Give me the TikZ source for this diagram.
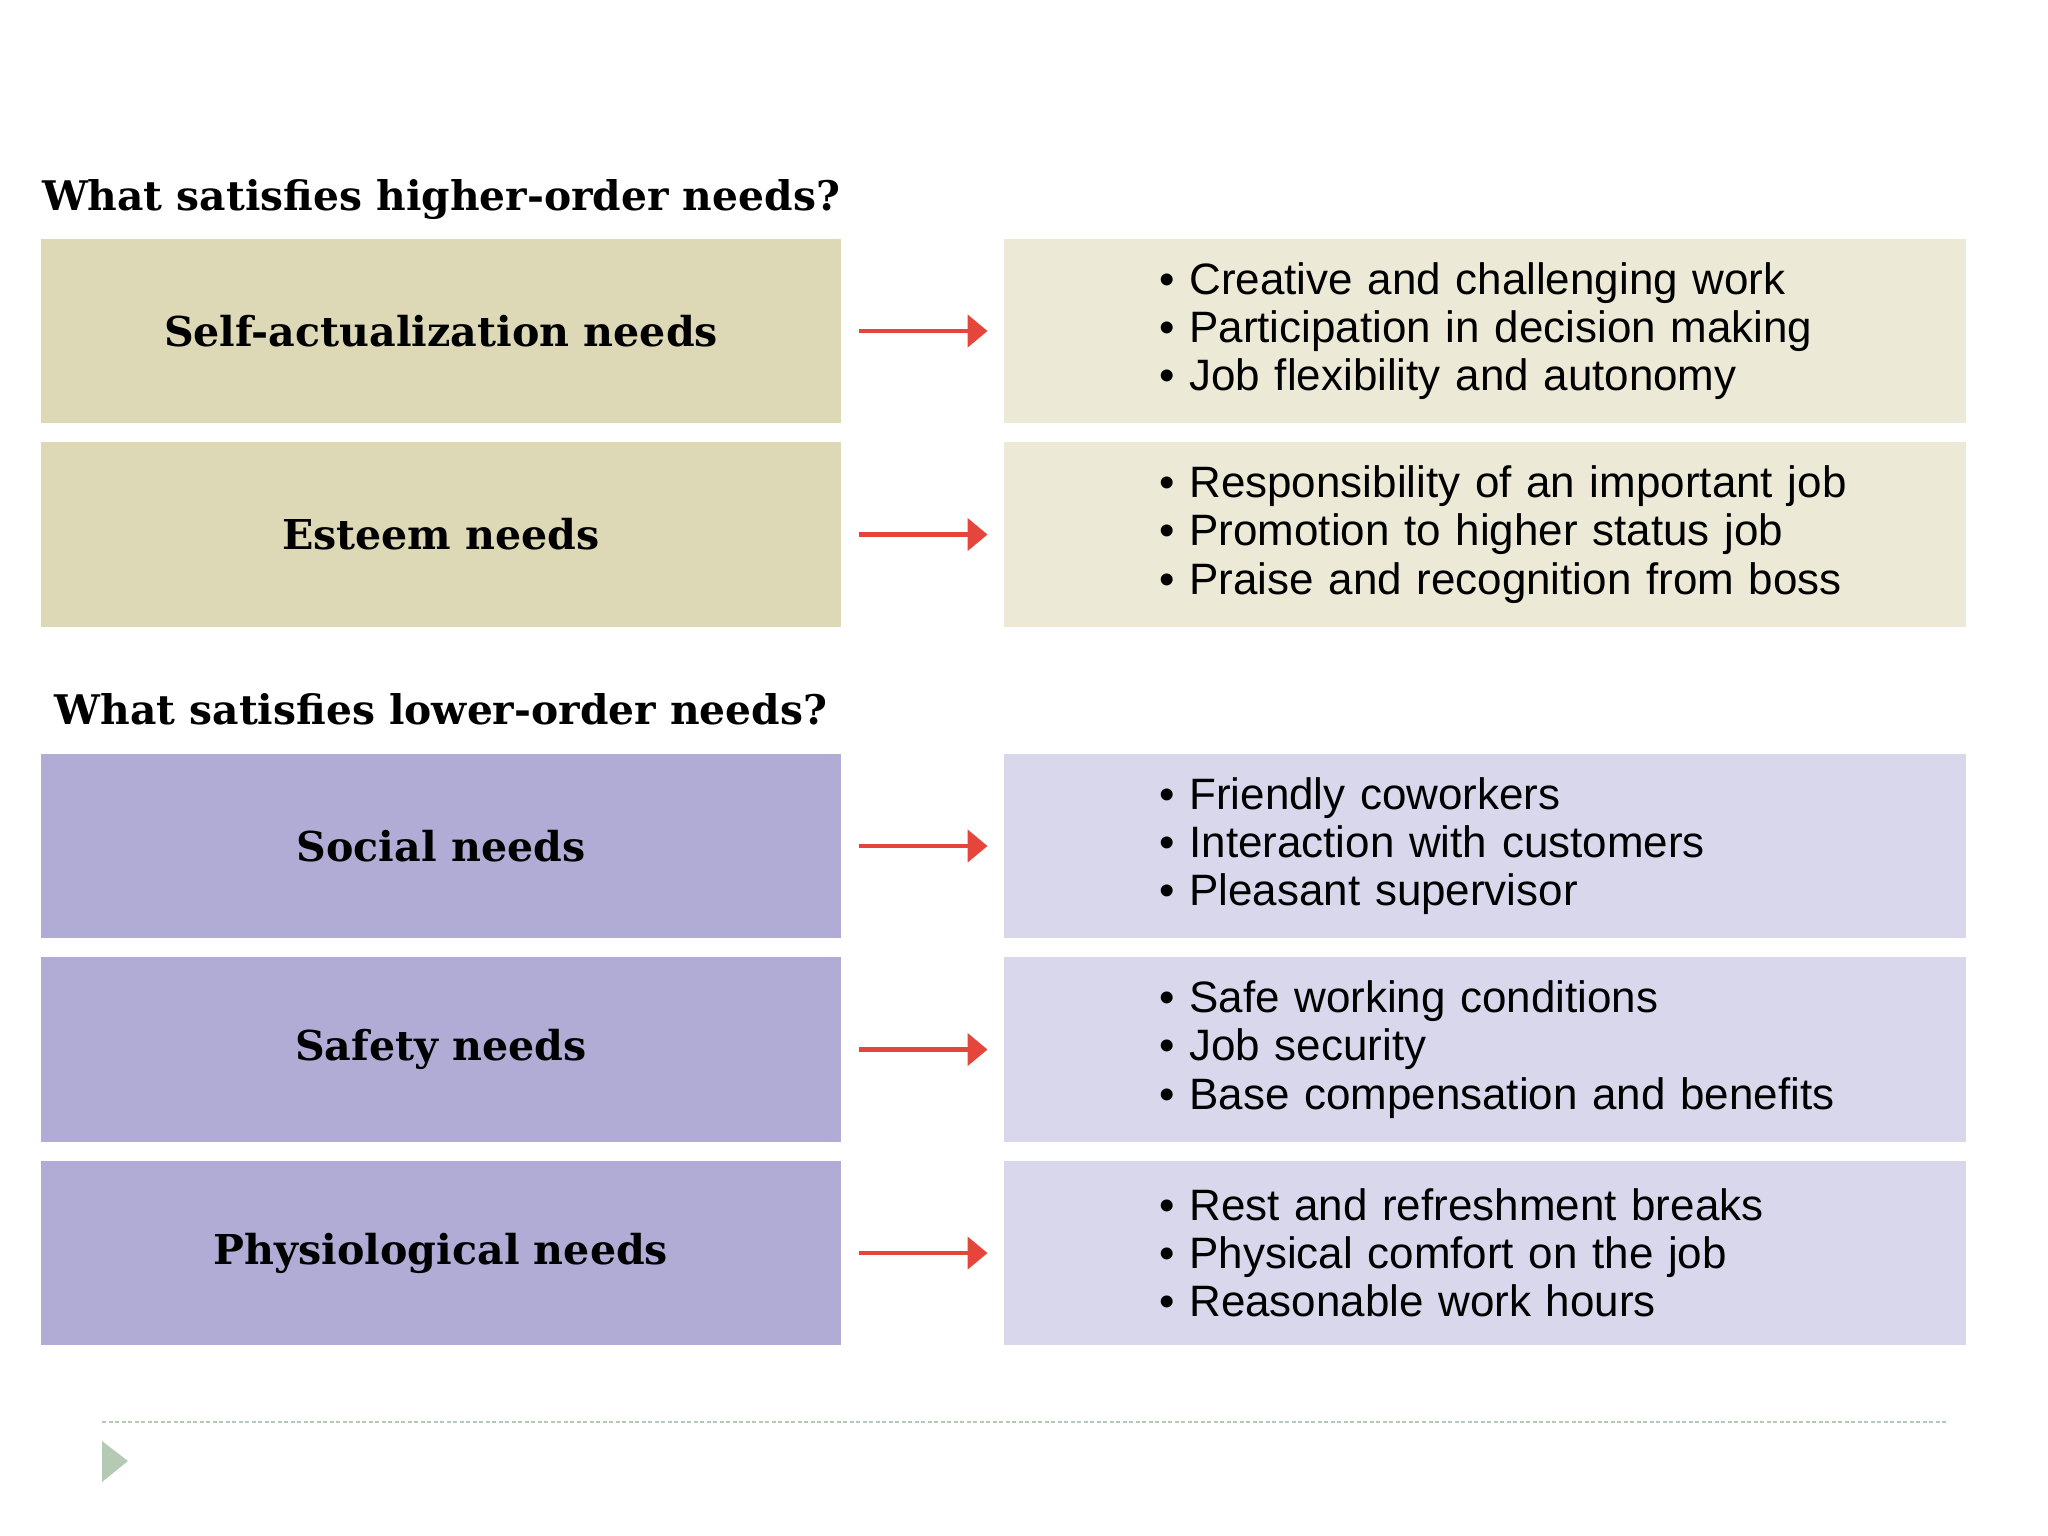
\documentclass[tikz,border=0pt]{standalone}
\usepackage{fontspec}
\setmainfont{Liberation Sans}
\newfontfamily\slabfont{DejaVu Serif}
\usepackage{xcolor}
\usetikzlibrary{arrows.meta, positioning}

\definecolor{tanneed}{HTML}{DDD9B7}
\definecolor{tansat}{HTML}{ECE9D6}
\definecolor{purpneed}{HTML}{B0ACD6}
\definecolor{purpsat}{HTML}{D9D7EB}
\definecolor{arrowred}{HTML}{E5453A}
\definecolor{footgreen}{HTML}{B4CAB4}

\begin{document}
\begin{tikzpicture}[
    x=0.01cm, y=-0.01cm,
    node distance=0.18cm and 1.62cm,
    need/.style={rectangle, minimum height=1.84cm, minimum width=7.99cm, align=center, font=\slabfont\bfseries\fontsize{11.7}{13}\selectfont},
    sat/.style={rectangle, minimum height=1.84cm, text width=9.61cm, inner xsep=0pt, align=left, font=\fontsize{12.5}{13.7}\selectfont, execute at begin node={\leftskip=1.55cm}},
    heading/.style={anchor=base, font=\slabfont\bfseries\fontsize{11.6}{13}\selectfont},
    arr/.style={-{Triangle[length=0.2cm, width=0.32cm]}, line width=1.3pt, arrowred, shorten <=0.18cm, shorten >=0.16cm},
]
\useasboundingbox (0,0) rectangle (2048,1536);

% higher-order needs
\node[heading] (higher) at (441,210) {What satisfies higher-order needs?};
\node[need, fill=tanneed] (self) at (441,331) {Self-actualization needs};
\node[need, fill=tanneed, below=of self] (esteem) {Esteem needs};
\node[sat, fill=tansat, right=of self] (selfsat) {• Creative and challenging work\\• Participation in decision making\\• Job flexibility and autonomy};
\node[sat, fill=tansat, right=of esteem] (esteemsat) {• Responsibility of an important job\\• Promotion to higher status job\\• Praise and recognition from boss};
\draw[arr] (self) -- (selfsat);
\draw[arr] (esteem) -- (esteemsat);

% lower-order needs
\node[heading] (lower) at (441,724) {What satisfies lower-order needs?};
\node[need, fill=purpneed] (social) at (441,846) {Social needs};
\node[need, fill=purpneed, below=of social] (safety) {Safety needs};
\node[need, fill=purpneed, below=of safety] (physio) {Physiological needs};
\node[sat, fill=purpsat, right=of social] (socialsat) {• Friendly coworkers\\• Interaction with customers\\• Pleasant supervisor};
\node[sat, fill=purpsat, right=of safety] (safetysat) {• Safe working conditions\\• Job security\\• Base compensation and benefits};
\node[sat, fill=purpsat, right=of physio] (physiosat) {• Rest and refreshment breaks\\• Physical comfort on the job\\• Reasonable work hours};
\draw[arr] (social) -- (socialsat);
\draw[arr] (safety) -- (safetysat);
\draw[arr] (physio) -- (physiosat);

% footer
\draw[footgreen, line width=0.02cm, dash pattern=on 0.04cm off 0.025cm] (102,1422) -- (1946,1422);
\fill[footgreen] (102,1441) -- (128,1461) -- (102,1482) -- cycle;
\end{tikzpicture}
\end{document}
